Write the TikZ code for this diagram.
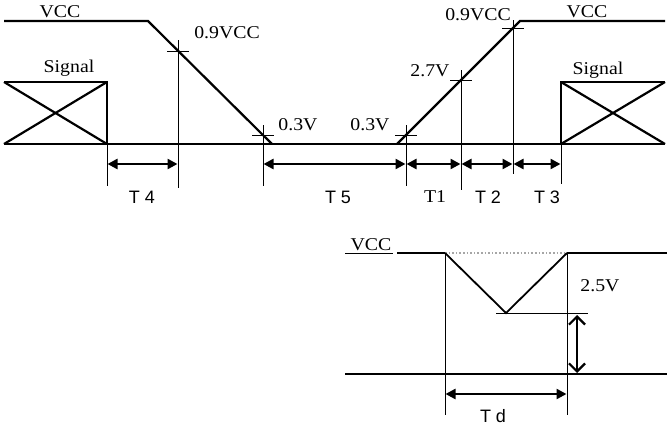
\documentclass[tikz,border=0pt]{standalone}
\usepackage{fontspec}
\setmainfont{Liberation Serif}
\newfontfamily\gothic{Liberation Sans}
\usetikzlibrary{arrows.meta}
\tikzset{
  lbl/.style={inner sep=0pt, font=\fontsize{18}{18}\selectfont, xscale=1.1},
  tlbl/.style={inner sep=0pt, font=\gothic\fontsize{18}{18}\selectfont},
  sig/.style={line width=2.2pt},
  thin/.style={line width=0.8pt},
  dim/.style={line width=2.4pt, {Triangle[length=10pt,width=10pt]}-{Triangle[length=10pt,width=10pt]}, shorten <=0.5pt, shorten >=0.5pt},
  barb/.style={line width=2.4pt, {Straight Barb[length=8pt,width=16pt,line width=2.2pt]}-{Straight Barb[length=8pt,width=16pt,line width=2.2pt]}},
}
\begin{document}
\begin{tikzpicture}[x=1pt,y=-1pt]
\useasboundingbox (0,0) rectangle (667,426);
% ---------- top waveform coordinates
\coordinate (l0) at (4,21);
\coordinate (fa) at (148,21);
\coordinate (fb) at (272,144);
\coordinate (ra) at (397,144);
\coordinate (rb) at (520,21);
\coordinate (r0) at (665,21);
\coordinate (b0) at (4,144);
\coordinate (b1) at (665,144);
% signal boxes
\coordinate (s1tl) at (4,82);
\coordinate (s1tr) at (107,82);
\coordinate (s1br) at (107,144);
\coordinate (s2tl) at (561,82);
\coordinate (s2tr) at (665,82);
\coordinate (s2bl) at (561,144);
\coordinate (s2br) at (665,144);
% crossing points
\coordinate (c1) at (178,51);
\coordinate (c2) at (263,135);
\coordinate (c3) at (406,135);
\coordinate (c4) at (461,80);
\coordinate (c5) at (513,28);
% vertical marker lines
\coordinate (v0t) at (107,144);
\coordinate (v0b) at (107,186);
\coordinate (v1t) at (178,40);
\coordinate (v1b) at (178,188);
\coordinate (v2t) at (263,125);
\coordinate (v2b) at (263,186);
\coordinate (v3t) at (406,125);
\coordinate (v3b) at (406,186);
\coordinate (v4t) at (461,70);
\coordinate (v4b) at (461,190);
\coordinate (v5t) at (513,20);
\coordinate (v5b) at (513,174);
\coordinate (v6t) at (561,144);
\coordinate (v6b) at (561,184);
% signals
\draw[sig] (l0) -- (fa) -- (fb);
\draw[sig] (ra) -- (rb) -- (r0);
\draw[sig] (b0) -- (b1);
\draw[sig] (s1tl) -- (s1tr) -- (s1br);
\draw[sig] (s1tl) -- (s1br);
\draw[sig] (b0) -- (s1tr);
\draw[sig] (s2bl) -- (s2tl) -- (s2tr);
\draw[sig] (s2tl) -- (s2br);
\draw[sig] (s2bl) -- (s2tr);
% marker lines
\foreach \v in {0,...,6} {\draw[thin] (v\v t) -- (v\v b);}
\foreach \c in {1,...,5} {\draw[thin] ([xshift=-11pt]c\c) -- ([xshift=11pt]c\c);}
% dimension arrows
\coordinate (a0) at (107,164);
\coordinate (a1) at (178,164);
\coordinate (a2) at (263,164);
\coordinate (a3) at (406,164);
\coordinate (a4) at (461,164);
\coordinate (a5) at (513,164);
\coordinate (a6) at (561,164);
\draw[dim] (a0) -- (a1);
\draw[dim] (a2) -- (a3);
\draw[dim] (a3) -- (a4);
\draw[dim] (a4) -- (a5);
\draw[dim] (a5) -- (a6);
% labels
\node[lbl] (tvcc1) at (60,12) {VCC};
\node[lbl] (tsig1) at (69,68) {Signal};
\node[lbl] (t09a) at (227,33) {0.9VCC};
\node[lbl] (t03a) at (298,125) {0.3V};
\node[lbl] (t03b) at (370,125) {0.3V};
\node[lbl] (t27) at (430,71) {2.7V};
\node[lbl] (t09b) at (478,15) {0.9VCC};
\node[lbl] (tvcc2) at (587,12) {VCC};
\node[lbl] (tsig2) at (598,70) {Signal};
\node[tlbl] (tT4) at (142,197) {T 4};
\node[tlbl] (tT5) at (338,197) {T 5};
\node[lbl] (tT1) at (435,197) {T1};
\node[tlbl] (tT2) at (488,197) {T 2};
\node[tlbl] (tT3) at (547,197) {T 3};
% ---------- bottom diagram
\coordinate (u0) at (345,253);
\coordinate (u1) at (393,253);
\coordinate (u2) at (397,253);
\coordinate (p1) at (445,253);
\coordinate (p2) at (506,313);
\coordinate (p3) at (567,253);
\coordinate (u3) at (667,253);
\coordinate (g0) at (345,374);
\coordinate (g1) at (667,374);
\coordinate (h0) at (496,313);
\coordinate (h1) at (588,313);
\coordinate (w1b) at (445,415);
\coordinate (w2b) at (567,415);
\coordinate (d0) at (445,394);
\coordinate (d1) at (567,394);
\coordinate (e0) at (577,315);
\coordinate (e1) at (577,373);
\draw[thin] (u0) -- (u1);
\draw[sig] (u2) -- (p1);
\draw[line width=1.6pt, gray!70, dotted] (p1) -- (p3);
\draw[sig] (p3) -- (u3);
\draw[sig] (g0) -- (g1);
\draw[line width=1.8pt] (p1) -- (p2) -- (p3);
\draw[thin] (h0) -- (h1);
\draw[thin] (p1) -- (w1b);
\draw[thin] (p3) -- (w2b);
\draw[dim] (d0) -- (d1);
\draw[barb] (e0) -- (e1);
\node[lbl] (tvcc3) at (371,245) {VCC};
\node[lbl] (t25) at (600,286) {2.5V};
\node[tlbl] (tTd) at (493,416) {T d};
\end{tikzpicture}
\end{document}
